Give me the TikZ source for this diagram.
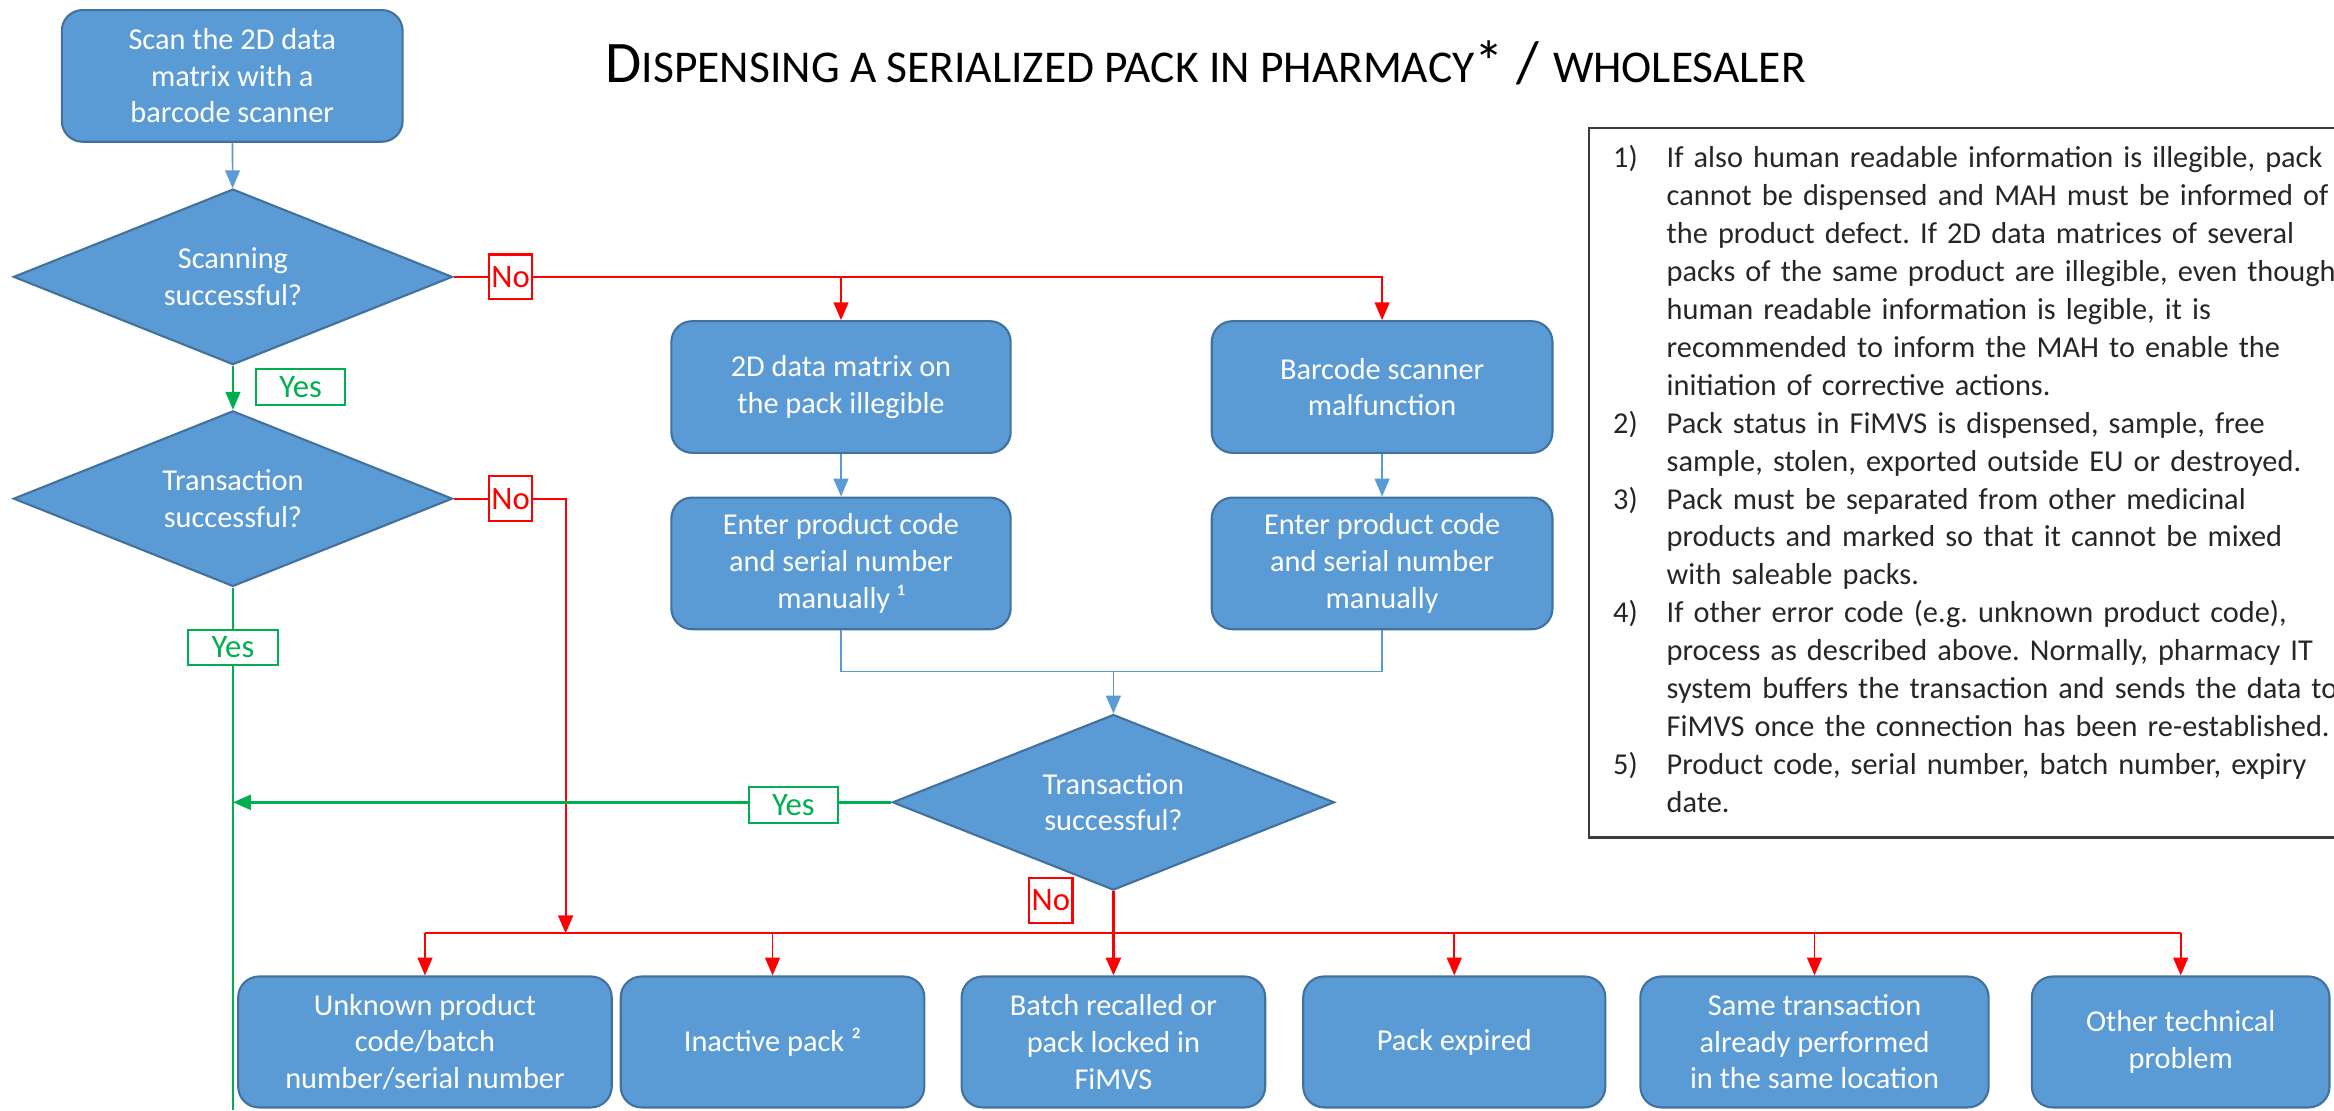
\documentclass[tikz,border=0pt]{standalone}
\usepackage{fontspec}
\setmainfont{Carlito}
\frenchspacing
\definecolor{boxfill}{RGB}{91, 155, 213}
\definecolor{boxline}{RGB}{65, 113, 156}
\definecolor{nored}{RGB}{255, 0, 0}
\definecolor{yesgreen}{RGB}{0, 176, 80}
\definecolor{notegray}{RGB}{60, 60, 60}
\usetikzlibrary{shapes.geometric, arrows.meta, positioning}
\newcommand{\titlecaps}[1]{{\fontsize{17.4}{20}\selectfont #1}}
\tikzset{
    stepbox/.style={draw=boxline, fill=boxfill, line width=0.8pt,
        rounded corners=0.28cm, text=white, align=center,
        font=\fontsize{11.6}{14}\selectfont, minimum height=1.77cm,
        inner sep=0pt},
    decision/.style={diamond, draw=boxline, fill=boxfill, line width=0.8pt,
        text=white, align=center, aspect=2.5, inner sep=0pt,
        minimum width=5.9cm, minimum height=2.36cm,
        font=\fontsize{11.6}{14}\selectfont},
    nolabel/.style={draw=nored, fill=white, text=nored, line width=0.8pt,
        inner sep=0pt, minimum width=0.58cm, minimum height=0.6cm,
        font=\fontsize{12.5}{12}\selectfont},
    yeslabel/.style={draw=yesgreen, fill=white, text=yesgreen,
        line width=0.8pt, inner sep=0pt, minimum width=1.2cm,
        minimum height=0.48cm, font=\fontsize{12.5}{12}\selectfont},
    arrowtip/.style={-{Triangle[width=0.2cm, length=0.24cm]}},
    flowline/.style={draw=boxfill, line width=0.6pt},
    noline/.style={draw=nored, line width=0.7pt},
    yesline/.style={draw=yesgreen, line width=0.6pt},
    notebox/.style={draw=notegray, line width=0.8pt, text=black!85,
        anchor=north west, inner xsep=0.32cm, inner ysep=0pt,
        text width=11.3cm, minimum height=9.54cm,
        font=\fontsize{11.6}{14.5}\selectfont},
}

\begin{document}
\begin{tikzpicture}[x=0.02cm, y=-0.02cm]
    \useasboundingbox (0, 0) rectangle (1568, 746);
    \clip (0, 0) rectangle (1568, 746);
    \node (title) at (810, 42) {\fontsize{22.5}{26}\selectfont
        D\titlecaps{ISPENSING A SERIALIZED PACK IN PHARMACY}*~/~\titlecaps{WHOLESALER}};

    \node[stepbox, minimum width=4.58cm] (scan) at (156, 51)
        {Scan the 2D data\\matrix with a\\barcode scanner};
    \node[decision] (scanok) at (156.5, 186) {Scanning\\successful?};
    \node[decision] (txok) at (156.5, 335) {Transaction\\successful?};
    \node[stepbox, minimum width=4.56cm] (illegible) at (565, 260)
        {2D data matrix on\\the pack illegible};
    \node[stepbox, minimum width=4.58cm] (malfunction) at (928.5, 260)
        {Barcode scanner\\malfunction};
    \node[stepbox, minimum width=4.56cm] (manualone) at (565, 378.5)
        {Enter product code\\and serial number\\manually ¹};
    \node[stepbox, minimum width=4.58cm] (manualtwo) at (928.5, 378.5)
        {Enter product code\\and serial number\\manually};
    \node[decision, minimum width=5.94cm] (txcheck) at (748, 539)
        {Transaction\\successful?};

    \node[stepbox, minimum width=5.02cm, minimum height=1.76cm] (unknown)
        at (285.5, 700) {Unknown product\\code/batch\\number/serial number};
    \node[stepbox, minimum width=4.08cm, minimum height=1.76cm] (inactive)
        at (519, 700) {Inactive pack ²};
    \node[stepbox, minimum width=4.08cm, minimum height=1.76cm] (recalled)
        at (748, 700) {Batch recalled or\\pack locked in\\FiMVS};
    \node[stepbox, minimum width=4.06cm, minimum height=1.76cm] (expired)
        at (977, 700) {Pack expired};
    \node[stepbox, minimum width=4.68cm, minimum height=1.76cm] (repeated)
        at (1219, 700) {Same transaction\\already performed\\in the same location};
    \node[stepbox, minimum width=4.0cm, minimum height=1.76cm] (othertech)
        at (1465, 700) {Other technical\\problem};

    \coordinate (join) at (748, 451);
    \coordinate (bus) at (0, 627);
    \coordinate (drop) at (380, 627);
    \coordinate (greenend) at (156.5, 746);

    \draw[flowline, arrowtip] (scan) -- (scanok);
    \draw[flowline, arrowtip] (illegible) -- (manualone);
    \draw[flowline, arrowtip] (malfunction) -- (manualtwo);
    \draw[flowline] (manualone.south) |- (join) -| (manualtwo.south);
    \draw[flowline, arrowtip] (join) -- (txcheck.north);

    \draw[noline, arrowtip] (scanok.east) -| (malfunction.north);
    \draw[noline, arrowtip] (illegible.north |- scanok.east) -- (illegible.north);
    \draw[noline, arrowtip] (txok.east) -| (drop);
    \draw[noline] (unknown.north |- bus) -- (othertech.north |- bus);
    \foreach \b in {unknown, inactive, expired, repeated, othertech}
        \draw[noline, arrowtip] (\b.north |- bus) -- (\b.north);
    \draw[noline, line width=1.2pt, arrowtip] (txcheck.south) -- (recalled.north);

    \draw[yesline, arrowtip] (scanok.south) -- (txok.north);
    \draw[yesline] (txok.south) -- (greenend);
    \draw[yesline, line width=1pt, arrowtip] (txcheck.west) -- (greenend |- txcheck.west);

    \node[nolabel] (noscan) at (343, 186) {No};
    \node[nolabel] (notx) at (343, 335) {No};
    \node[nolabel] (nocheck) at (706, 605) {No};
    \node[yeslabel] (yesscan) at (202, 260) {Yes};
    \node[yeslabel] (yestx) at (156.5, 435) {Yes};
    \node[yeslabel] (yescheck) at (533, 541) {Yes};

    \node[notebox] (notes) at (1067, 85) {\noindent
        \begin{tabular}{@{}p{0.72cm}@{}l@{}}
            1) & If also human readable information is illegible, pack\\
               & cannot be dispensed and MAH must be informed of\\
               & the product defect. If 2D data matrices of several\\
               & packs of the same product are illegible, even though\\
               & human readable information is legible, it is\\
               & recommended to inform the MAH to enable the\\
               & initiation of corrective actions.\\
            2) & Pack status in FiMVS is dispensed, sample, free\\
               & sample, stolen, exported outside EU or destroyed.\\
            3) & Pack must be separated from other medicinal\\
               & products and marked so that it cannot be mixed\\
               & with saleable packs.\\
            4) & If other error code (e.g. unknown product code),\\
               & process as described above. Normally, pharmacy IT\\
               & system buffers the transaction and sends the data to\\
               & FiMVS once the connection has been re-established.\\
            5) & Product code, serial number, batch number, expiry\\
               & date.
        \end{tabular}};
\end{tikzpicture}
\end{document}
